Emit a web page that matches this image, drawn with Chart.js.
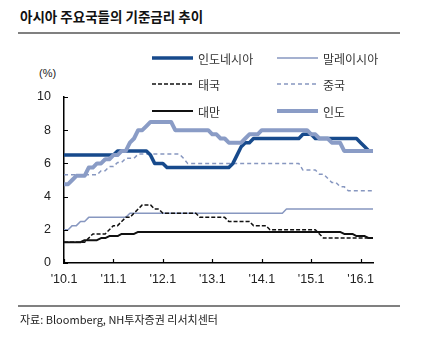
<!DOCTYPE html>
<html>
<head>
<meta charset="utf-8">
<script src="https://cdn.jsdelivr.net/npm/chart.js@4.4.1/dist/chart.umd.min.js"></script>
<style>
    body { margin: 0; background: #fff; }
    #wrap { position: relative; width: 430px; height: 347px; overflow: hidden; }
    #title { position: absolute; left: 20px; top: 7px; font: bold 13.5px "Noto Sans CJK KR"; line-height: 18px; color: #111; white-space: nowrap; }
    .rule { position: absolute; left: 18px; width: 382px; height: 2px; background: #808080; }
    #unit { position: absolute; left: 39px; top: 67px; font: 11px "Liberation Sans Narrow", "Liberation Sans"; color: #222; }
    #source { position: absolute; left: 20px; top: 311px; font: 11px "Liberation Sans Narrow", "Noto Sans CJK KR"; line-height: 16px; color: #222; white-space: nowrap; }
    canvas { position: absolute; left: 0; top: 0; }
</style>
</head>
<body>
<div id="wrap">
    <div id="title">아시아 주요국들의 기준금리 추이</div>
    <div class="rule" style="top:32px"></div>
    <div id="unit">(%)</div>
    <canvas id="rateChart" width="430" height="347"></canvas>
    <div class="rule" style="top:305px"></div>
    <div id="source">자료: Bloomberg, NH투자증권 리서치센터</div>
</div>
<script>
// monthly policy rates, '10.1 ~ '16.4 (one value per month)
const xTickLabels = ["'10.1", "'11.1", "'12.1", "'13.1", "'14.1", "'15.1", "'16.1"];
const yTicks = [0, 2, 4, 6, 8, 10];

const indonesia = [
    6.5, 6.5, 6.5, 6.5, 6.5, 6.5, 6.5, 6.5, 6.5, 6.5, 6.5, 6.5,
    6.5, 6.75, 6.75, 6.75, 6.75, 6.75, 6.75, 6.75, 6.75, 6.5, 6, 6,
    6, 5.75, 5.75, 5.75, 5.75, 5.75, 5.75, 5.75, 5.75, 5.75, 5.75, 5.75,
    5.75, 5.75, 5.75, 5.75, 5.75, 6, 6.5, 7, 7.25, 7.25, 7.5, 7.5,
    7.5, 7.5, 7.5, 7.5, 7.5, 7.5, 7.5, 7.5, 7.5, 7.5, 7.75, 7.75,
    7.75, 7.5, 7.5, 7.5, 7.5, 7.5, 7.5, 7.5, 7.5, 7.5, 7.5, 7.5,
    7.25, 7, 6.75, 6.75
];
const malaysia = [
    2, 2, 2.25, 2.25, 2.5, 2.5, 2.75, 2.75, 2.75, 2.75, 2.75, 2.75,
    2.75, 2.75, 2.75, 2.75, 3, 3, 3, 3, 3, 3, 3, 3,
    3, 3, 3, 3, 3, 3, 3, 3, 3, 3, 3, 3,
    3, 3, 3, 3, 3, 3, 3, 3, 3, 3, 3, 3,
    3, 3, 3, 3, 3, 3, 3.25, 3.25, 3.25, 3.25, 3.25, 3.25,
    3.25, 3.25, 3.25, 3.25, 3.25, 3.25, 3.25, 3.25, 3.25, 3.25, 3.25, 3.25,
    3.25, 3.25, 3.25, 3.25
];
const thailand = [
    1.25, 1.25, 1.25, 1.25, 1.25, 1.25, 1.5, 1.75, 1.75, 1.75, 1.75, 2,
    2.25, 2.25, 2.5, 2.75, 2.75, 3, 3.25, 3.5, 3.5, 3.5, 3.25, 3.25,
    3, 3, 3, 3, 3, 3, 3, 3, 3, 2.75, 2.75, 2.75,
    2.75, 2.75, 2.75, 2.75, 2.5, 2.5, 2.5, 2.5, 2.5, 2.5, 2.25, 2.25,
    2.25, 2.25, 2, 2, 2, 2, 2, 2, 2, 2, 2, 2,
    2, 2, 1.75, 1.5, 1.5, 1.5, 1.5, 1.5, 1.5, 1.5, 1.5, 1.5,
    1.5, 1.5, 1.5, 1.5
];
const china = [
    5.31, 5.31, 5.31, 5.31, 5.31, 5.31, 5.31, 5.31, 5.31, 5.56, 5.56, 5.81,
    5.81, 6.06, 6.06, 6.31, 6.31, 6.31, 6.56, 6.56, 6.56, 6.56, 6.56, 6.56,
    6.56, 6.56, 6.56, 6.56, 6.56, 6.31, 6, 6, 6, 6, 6, 6,
    6, 6, 6, 6, 6, 6, 6, 6, 6, 6, 6, 6,
    6, 6, 6, 6, 6, 6, 6, 6, 6, 6, 5.6, 5.6,
    5.6, 5.6, 5.35, 5.35, 5.1, 4.85, 4.85, 4.6, 4.6, 4.35, 4.35, 4.35,
    4.35, 4.35, 4.35, 4.35
];
const taiwan = [
    1.25, 1.25, 1.25, 1.25, 1.25, 1.375, 1.375, 1.375, 1.375, 1.5, 1.5, 1.625,
    1.625, 1.625, 1.75, 1.75, 1.75, 1.75, 1.875, 1.875, 1.875, 1.875, 1.875, 1.875,
    1.875, 1.875, 1.875, 1.875, 1.875, 1.875, 1.875, 1.875, 1.875, 1.875, 1.875, 1.875,
    1.875, 1.875, 1.875, 1.875, 1.875, 1.875, 1.875, 1.875, 1.875, 1.875, 1.875, 1.875,
    1.875, 1.875, 1.875, 1.875, 1.875, 1.875, 1.875, 1.875, 1.875, 1.875, 1.875, 1.875,
    1.875, 1.875, 1.875, 1.875, 1.875, 1.875, 1.875, 1.875, 1.75, 1.75, 1.75, 1.625,
    1.625, 1.625, 1.5, 1.5
];
const india = [
    4.75, 4.75, 5, 5.25, 5.25, 5.25, 5.75, 5.75, 6, 6, 6.25, 6.25,
    6.5, 6.5, 6.75, 6.75, 7.25, 7.5, 8, 8, 8.25, 8.5, 8.5, 8.5,
    8.5, 8.5, 8.5, 8, 8, 8, 8, 8, 8, 8, 8, 8,
    7.75, 7.75, 7.5, 7.5, 7.25, 7.25, 7.25, 7.25, 7.5, 7.75, 7.75, 7.75,
    8, 8, 8, 8, 8, 8, 8, 8, 8, 8, 8, 8,
    7.75, 7.75, 7.5, 7.5, 7.5, 7.25, 7.25, 7.25, 6.75, 6.75, 6.75, 6.75,
    6.75, 6.75, 6.75, 6.75
];

// month categories: '10.1 ... '16.4
const months = [];
for (let y = 10; y <= 16; y++) {
    for (let m = 1; m <= 12; m++) {
        if (y === 16 && m > 4) break;
        months.push("'" + y + "." + m);
    }
}

const axisFont = { family: '"Liberation Sans Narrow", "Liberation Sans", Arial', size: 12.5 };

// short inward tick marks + two-column legend
const decorPlugin = {
    id: 'decor',
    afterDraw(chart) {
        const ctx = chart.ctx;
        const area = chart.chartArea;
        const xs = chart.scales.x, ys = chart.scales.y;
        ctx.save();
        ctx.strokeStyle = '#000';
        ctx.lineWidth = 1.2;
        ctx.beginPath();
        yTicks.forEach(v => {
            const py = Math.round(ys.getPixelForValue(v)) + 0.5;
            ctx.moveTo(area.left, py);
            ctx.lineTo(area.left + 4, py);
        });
        months.forEach((lab, i) => {
            if (xTickLabels.indexOf(lab) < 0) return;
            const px = Math.round(xs.getPixelForValue(i)) + 0.5;
            ctx.moveTo(px, area.bottom);
            ctx.lineTo(px, area.bottom - 4);
        });
        ctx.stroke();

        // legend: rows of two, in dataset order
        const colLine = [152, 277];
        const rowY = [58, 84, 111];
        ctx.font = '12px "Noto Sans CJK KR"';
        ctx.textBaseline = 'middle';
        chart.data.datasets.forEach((ds, i) => {
            const x = colLine[i % 2];
            const y = rowY[Math.floor(i / 2)];
            ctx.strokeStyle = ds.borderColor;
            ctx.lineWidth = ds.borderWidth;
            ctx.setLineDash(ds.borderDash || []);
            ctx.beginPath();
            ctx.moveTo(x, y);
            ctx.lineTo(x + 41, y);
            ctx.stroke();
            ctx.setLineDash([]);
            ctx.fillStyle = '#333';
            ctx.fillText(ds.label, x + 46, y + 1);
        });
        ctx.restore();
    }
};

const ctx = document.getElementById('rateChart').getContext('2d');
new Chart(ctx, {
    type: 'line',
    data: {
        labels: months,
        datasets: [
            { label: '인도네시아', data: indonesia, borderColor: '#174a8c', borderWidth: 3.5, order: 1 },
            { label: '말레이시아', data: malaysia, borderColor: '#8797c0', borderWidth: 1.5, order: 4 },
            { label: '태국', data: thailand, borderColor: '#111', borderWidth: 1.5, borderDash: [4, 2], order: 2 },
            { label: '중국', data: china, borderColor: '#8797c0', borderWidth: 1.5, borderDash: [4, 3], order: 5 },
            { label: '대만', data: taiwan, borderColor: '#111', borderWidth: 2, order: 3 },
            { label: '인도', data: india, borderColor: '#8a9cc6', borderWidth: 4, order: 0 }
        ]
    },
    options: {
        responsive: false,
        animation: false,
        devicePixelRatio: 1,
        elements: {
            point: { radius: 0 },
            line: { tension: 0, borderJoinStyle: 'round', borderCapStyle: 'butt' }
        },
        layout: { padding: { left: 0, top: 97, right: 57, bottom: 0 } },
        plugins: {
            legend: { display: false },
            tooltip: { enabled: false }
        },
        scales: {
            x: {
                type: 'category',
                offset: false,
                afterFit: s => { s.height = 84; },
                grid: { display: false, drawTicks: false },
                border: { display: true, color: '#000', width: 1.5 },
                ticks: {
                    autoSkip: false,
                    maxRotation: 0,
                    padding: 9,
                    color: '#222',
                    font: axisFont,
                    callback: function (val) {
                        const lab = months[val];
                        return xTickLabels.indexOf(lab) >= 0 ? lab : null;
                    }
                }
            },
            y: {
                min: 0,
                max: 10,
                afterFit: s => { s.width = 64; },
                grid: { display: false, drawTicks: false },
                border: { display: true, color: '#000', width: 1.5 },
                ticks: { stepSize: 2, padding: 13, color: '#222', font: axisFont }
            }
        }
    },
    plugins: [decorPlugin]
});
</script>
</body>
</html>
